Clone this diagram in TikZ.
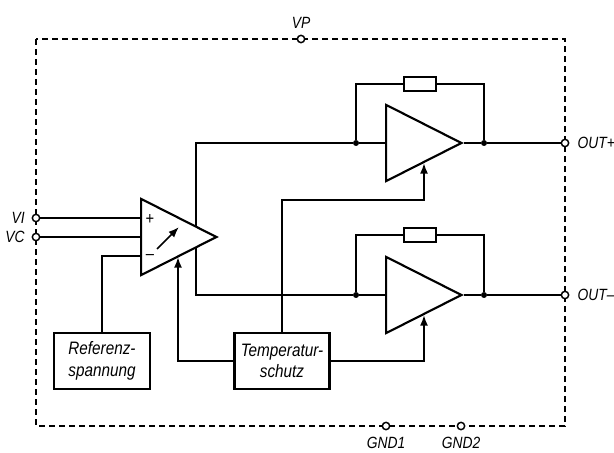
\documentclass[tikz,border=0pt]{standalone}
\usepackage{fontspec}
\setsansfont{Liberation Sans}[FakeStretch=0.85]
\usetikzlibrary{positioning}
\usetikzlibrary{arrows.meta}
\usetikzlibrary{shapes.geometric}

\begin{document}
\begin{tikzpicture}[x=0.75pt,y=-0.75pt]
			\tikzstyle{wire}=[line width=1.3pt]
			\tikzstyle{ctl}=[line width=1.3pt,-{Latex[length=8pt,width=6pt]}]
			\tikzstyle{frame}=[line width=1.2pt,dash pattern=on 4.5pt off 3pt]
			\tikzstyle{amp}=[draw,line width=1.6pt,isosceles triangle,isosceles triangle apex angle=53.7,minimum height=56.5pt,inner sep=0pt,anchor=lower side,fill=white]
			\tikzstyle{pin}=[draw,circle,fill=white,line width=1.1pt,minimum size=5.5pt,inner sep=0pt]
			\tikzstyle{dot}=[draw,circle,fill=black,minimum size=4pt,inner sep=0pt]
			\tikzstyle{res}=[draw,line width=1.6pt,fill=white,minimum width=24pt,minimum height=10pt,inner sep=0pt]
			\tikzstyle{block}=[draw,line width=1.8pt,fill=white,minimum height=42pt,inner sep=0pt,align=center,font=\sffamily\itshape\fontsize{13.5}{16}\selectfont]
			\tikzstyle{txt}=[font=\sffamily\itshape\fontsize{12.2}{15}\selectfont,inner sep=0pt]

			\useasboundingbox (0,0) rectangle (614,453);

			\draw[frame] (36,39) rectangle (565,426);

			\node (ampa) [amp] at (140,237) {};
			\node (ampb) [amp] at (385,143) {};
			\node (ampc) [amp] at (385,295) {};

			\node (refbox) [block,minimum width=72pt] at (102,361) {Referenz-\\spannung};
			\node (tempbox) [block,minimum width=71pt] at (282,361) {Temperatur-\\schutz};

			\node (vp) [pin] at (301,39) {};
			\node (vi) [pin] at (36,218) {};
			\node (vc) [pin] at (36,237) {};
			\node (outp) [pin] at (565,143) {};
			\node (outm) [pin] at (565,295) {};
			\node (gnda) [pin] at (386,426) {};
			\node (gndb) [pin] at (461,426) {};

			\node (dota) [dot] at (356,143) {};
			\node (dotb) [dot] at (484,143) {};
			\node (dotc) [dot] at (356,295) {};
			\node (dotd) [dot] at (484,295) {};

			\node (resa) [res] at (420,84) {};
			\node (resb) [res] at (420,235) {};

			\node (vplabel) [txt,above=4pt of vp] {VP};
			\node (vilabel) [txt,left=5pt of vi] {VI};
			\node (vclabel) [txt,left=5pt of vc] {VC};
			\node (outplabel) [txt,right=6pt of outp] {OUT+};
			\node (outmlabel) [txt,right=6pt of outm] {OUT--};
			\node (gndalabel) [txt,below=5pt of gnda] {GND1};
			\node (gndblabel) [txt,below=5pt of gndb] {GND2};
			\node (plus) [inner sep=0pt,font=\sffamily\fontsize{13}{13}\selectfont] at (150,219.5) {+};
			\node (minus) [inner sep=0pt,font=\sffamily\fontsize{13}{13}\selectfont] at (150,257) {--};

			\coordinate (refin) at (140,256);
			\coordinate (vitop) at (140,218);
			\coordinate (outtop) at (196,227);
			\coordinate (outbot) at (196,247);
			\coordinate (ctla) at (178,257);
			\coordinate (ctlb) at (424,163);
			\coordinate (ctlc) at (424,315);
			\coordinate (bendb) at (424,200);
			\coordinate (slanta) at (157,249);
			\coordinate (slantb) at (179,227);

			\draw[wire] (vi) -- (vitop);
			\draw[wire] (vc) -- (ampa.lower side);
			\draw[wire] (refbox.north) |- (refin);
			\draw[wire] (outtop) |- (dota);
			\draw[wire] (outbot) |- (dotc);

			\draw[wire] (dota) -- (ampb.lower side);
			\draw[wire] (ampb.apex) -- (dotb);
			\draw[wire] (dotb) -- (outp);
			\draw[wire] (dota) |- (resa.west);
			\draw[wire] (resa.east) -| (dotb);

			\draw[wire] (dotc) -- (ampc.lower side);
			\draw[wire] (ampc.apex) -- (dotd);
			\draw[wire] (dotd) -- (outm);
			\draw[wire] (dotc) |- (resb.west);
			\draw[wire] (resb.east) -| (dotd);

			\draw[ctl] (tempbox.west) -| (ctla);
			\draw[ctl] (tempbox.north) |- (bendb) -- (ctlb);
			\draw[ctl] (tempbox.east) -| (ctlc);
			\draw[ctl] (slanta) -- (slantb);
\end{tikzpicture}
\end{document}
